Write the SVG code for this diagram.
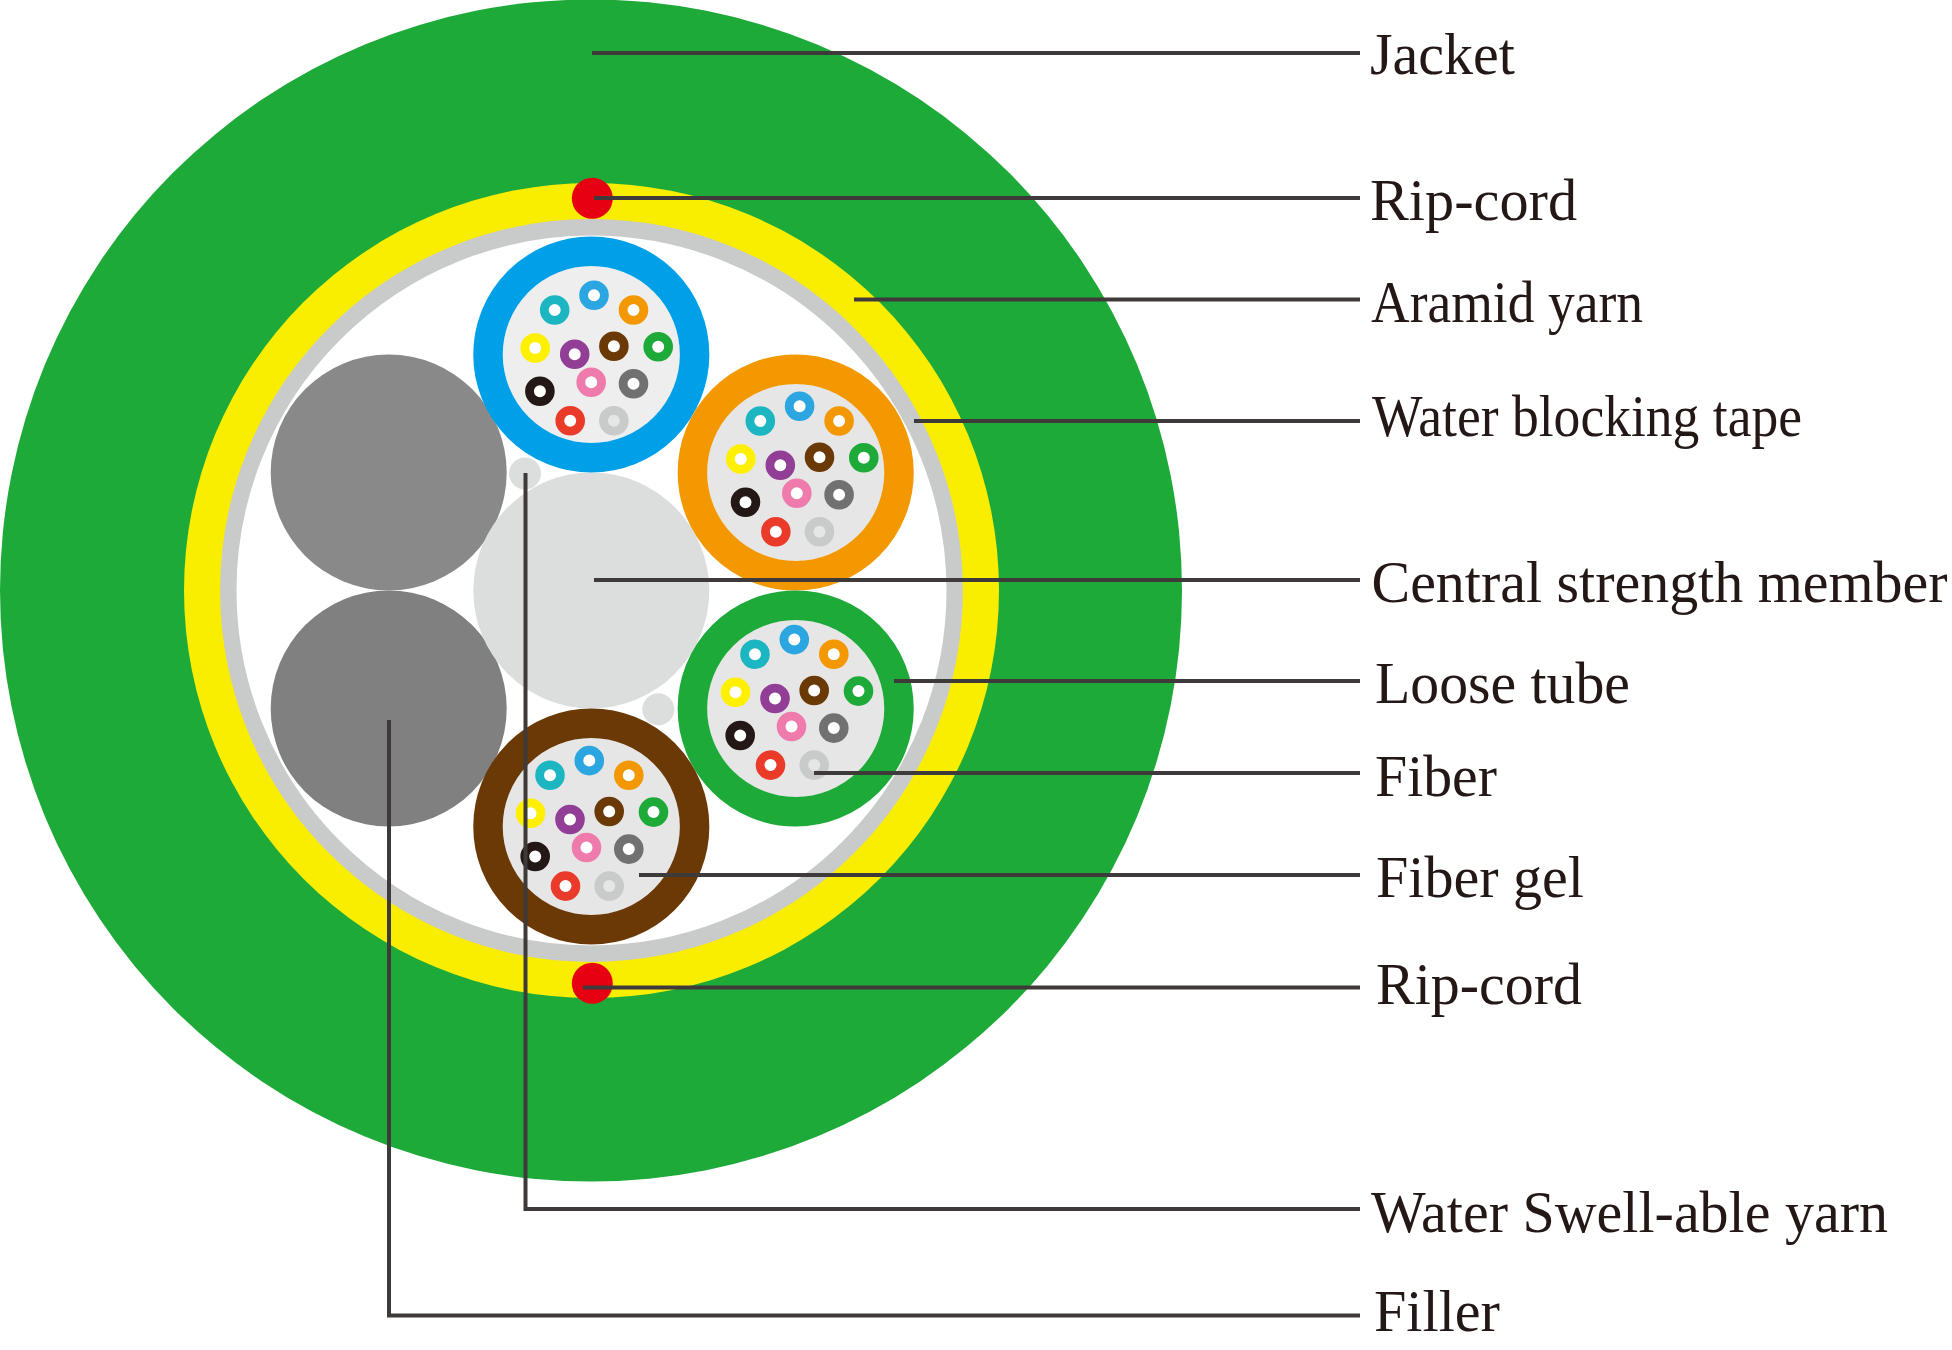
<svg xmlns="http://www.w3.org/2000/svg" xmlns:xlink="http://www.w3.org/1999/xlink" width="1952" height="1350" viewBox="0 0 1952 1350">
<style>
.f{fill:#fff;stroke-width:8.8}
.leader{fill:none;stroke:#3e3a39;stroke-width:4}
.lab{font-family:"Liberation Serif","Times New Roman",serif;font-size:60px;fill:#231815}
.tube{fill:none;stroke-width:29.5}
.gel{fill:#e6e6e6}
</style>
<defs>
<g id="bundle">
<circle class="f" cx="0" cy="0" r="10.4" stroke="#1bb6c1"/>
<circle class="f" cx="39.300" cy="-14.700" r="10.4" stroke="#2ca6e0"/>
<circle class="f" cx="78.800" cy="0" r="10.4" stroke="#f39800"/>
<circle class="f" cx="-19.500" cy="38" r="10.4" stroke="#fff000"/>
<circle class="f" cx="20" cy="44.200" r="10.4" stroke="#923d96"/>
<circle class="f" cx="59.200" cy="36.200" r="10.4" stroke="#6a3906"/>
<circle class="f" cx="103.500" cy="36.800" r="10.4" stroke="#1eaa39"/>
<circle class="f" cx="-14.800" cy="81.200" r="10.4" stroke="#231815"/>
<circle class="f" cx="36.500" cy="72.200" r="10.4" stroke="#ee7bac"/>
<circle class="f" cx="78.800" cy="73.800" r="10.4" stroke="#727171"/>
<circle class="f" cx="15.500" cy="110.800" r="10.4" stroke="#ea3a2a"/>
<circle cx="59.200" cy="110.800" r="10.4" fill="#e6e6e6" stroke="#c9caca" stroke-width="8.8"/>
</g>
</defs>
<rect width="1952" height="1350" fill="#fff"/>
<g id="jacket"><circle cx="591" cy="590.500" r="591" fill="#1eaa39"/></g>
<g id="aramid-yarn"><circle cx="591.500" cy="590.500" r="407.500" fill="#faee00"/></g>
<g id="water-blocking-tape"><circle cx="591.500" cy="590.500" r="363.200" fill="#fff" stroke="#c9caca" stroke-width="16.400"/></g>
<g id="rip-cord-top"><circle cx="592.300" cy="198.300" r="20.500" fill="#e60012"/></g>
<g id="rip-cord-bottom"><circle cx="592.300" cy="983.300" r="20.500" fill="#e60012"/></g>
<g id="filler-top"><circle cx="388.700" cy="472.500" r="118" fill="#898989"/></g>
<g id="filler-bottom"><circle cx="388.700" cy="708.500" r="118" fill="#808080"/></g>
<g id="central-strength-member"><circle cx="591.300" cy="590.500" r="118" fill="#dcdddd"/></g>
<g id="yarn-a"><circle cx="525" cy="473.500" r="16" fill="#dcdddd"/></g>
<g id="yarn-b"><circle cx="658.300" cy="709.300" r="16" fill="#dcdddd"/></g>
<g id="tube-blue">
<circle cx="591.300" cy="354.500" r="88.700" fill="#eeeeee"/>
<circle class="tube" cx="591.300" cy="354.500" r="103.300" stroke="#00a0e9"/>
<use xlink:href="#bundle" href="#bundle" x="554.700" y="310"/>
</g>
<g id="tube-orange">
<circle class="gel" cx="795.700" cy="472.500" r="88.700"/>
<circle class="tube" cx="795.700" cy="472.500" r="103.300" stroke="#f39800"/>
<use xlink:href="#bundle" href="#bundle" x="760.300" y="421"/>
</g>
<g id="tube-green">
<circle class="gel" cx="795.700" cy="708.500" r="88.700"/>
<circle class="tube" cx="795.700" cy="708.500" r="103.300" stroke="#1eaa39"/>
<use xlink:href="#bundle" href="#bundle" x="755" y="654.300"/>
</g>
<g id="tube-brown">
<circle class="gel" cx="591.300" cy="826.500" r="88.700"/>
<circle class="tube" cx="591.300" cy="826.500" r="103.300" stroke="#6a3906"/>
<use xlink:href="#bundle" href="#bundle" x="550" y="775.300"/>
</g>
<g id="connectors">
<path class="leader" d="M592 53H1360"/>
<path class="leader" d="M594 198H1360"/>
<path class="leader" d="M854 299.500H1360"/>
<path class="leader" d="M914 421H1360"/>
<path class="leader" d="M594 580H1360"/>
<path class="leader" d="M894 681H1360"/>
<path class="leader" d="M814 773H1360"/>
<path class="leader" d="M639 875H1360"/>
<path class="leader" d="M583 987.500H1360"/>
<path class="leader" d="M525.500 473V1209H1360"/>
<path class="leader" d="M389 720V1315.500H1360"/>
</g>
<g id="labels">
<text class="lab" x="1370" y="74" textLength="145" lengthAdjust="spacingAndGlyphs">Jacket</text>
<text class="lab" x="1370" y="220" textLength="207" lengthAdjust="spacingAndGlyphs">Rip-cord</text>
<text class="lab" x="1371" y="321.500" textLength="272" lengthAdjust="spacingAndGlyphs">Aramid yarn</text>
<text class="lab" x="1372" y="435.500" textLength="430" lengthAdjust="spacingAndGlyphs">Water blocking tape</text>
<text class="lab" x="1371.500" y="602" textLength="576" lengthAdjust="spacingAndGlyphs">Central strength member</text>
<text class="lab" x="1375" y="703" textLength="255" lengthAdjust="spacingAndGlyphs">Loose tube</text>
<text class="lab" x="1375" y="796" textLength="122" lengthAdjust="spacingAndGlyphs">Fiber</text>
<text class="lab" x="1376" y="897" textLength="208" lengthAdjust="spacingAndGlyphs">Fiber gel</text>
<text class="lab" x="1376" y="1004" textLength="206" lengthAdjust="spacingAndGlyphs">Rip-cord</text>
<text class="lab" x="1371" y="1231.500" textLength="517" lengthAdjust="spacingAndGlyphs">Water Swell-able yarn</text>
<text class="lab" x="1374" y="1331" textLength="126" lengthAdjust="spacingAndGlyphs">Filler</text>
</g>
</svg>
